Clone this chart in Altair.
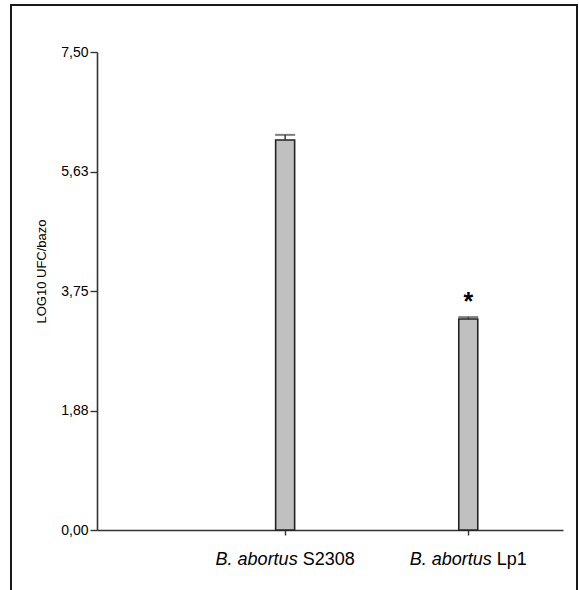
import altair as alt
import pandas as pd

# ---- data ----
italic_parts = ["B. abortus", "B. abortus"]
plain_parts = ["S2308", "Lp1"]
means = [6.12, 3.31]
errors = [0.08, 0.03]
marks = ["", "*"]
y_ticks = [0, 1.875, 3.75, 5.625, 7.5]
y_tick_labels = ["0,00", "1,88", "3,75", "5,63", "7,50"]
y_title = "LOG10 UFC/bazo"

W, H = 466, 478
FONT = "Liberation Sans"
LABEL_SIZE = 18

df = pd.DataFrame({
    "pos": list(range(1, len(means) + 1)),
    "mean": means,
    "top": [m + e for m, e in zip(means, errors)],
    "italic": italic_parts,
    "plain": plain_parts,
    "mark": marks,
})

# Arial-like advance widths (em) to centre the mixed-style labels
ADV = {"B": .667, ".": .278, " ": .278, "a": .556, "b": .556, "o": .556, "r": .333,
       "t": .278, "u": .556, "s": .5, "S": .667, "L": .556, "p": .556}
def text_w(s, size):
    return sum(ADV.get(c, .556) for c in s) * size

xscale = alt.Scale(domain=[0, 2.49], nice=False, zero=False)
yscale = alt.Scale(domain=[0, 7.5], nice=False)
tick_label_expr = "{" + ",".join(f"'{v}':'{l}'" for v, l in zip(y_ticks, y_tick_labels)) + "}[datum.value]"

base = alt.Chart(df)

bars = base.mark_bar(size=19, orient="vertical", fill="#c0c0c0", stroke="#222222", strokeWidth=1.6).encode(
    x=alt.X("pos:Q", scale=xscale,
            axis=alt.Axis(values=[1, 2], labels=False, title=None, tickSize=5, domainColor="#333333",
                          tickColor="#333333", domainWidth=1.6, tickWidth=1.4, grid=False)),
    y=alt.Y("mean:Q", scale=yscale,
            axis=alt.Axis(values=y_ticks, labelExpr=tick_label_expr, title=y_title, grid=False,
                          tickSize=7, labelPadding=2, labelFontSize=14, labelFont=FONT,
                          labelColor="#000000", domainColor="#333333", tickColor="#333333",
                          domainWidth=1.6, tickWidth=1.4, titleFont=FONT, titleFontSize=13,
                          titleFontWeight="normal", titleColor="#000000", titleAngle=-90,
                          titleX=-56, titleY=219, titleAlign="center", titleBaseline="middle")),
    y2=alt.datum(0),
)

err_line = base.mark_rule(color="#333333", strokeWidth=1.5).encode(
    x=alt.X("pos:Q", scale=xscale), y=alt.Y("mean:Q", scale=yscale), y2="top:Q")
err_cap = base.mark_tick(orient="horizontal", size=20, thickness=2, color="#444444").encode(
    x=alt.X("pos:Q", scale=xscale), y=alt.Y("top:Q", scale=yscale))

star = base.mark_text(fontSize=25, font=FONT, fontWeight="bold", baseline="alphabetic", align="center",
                      dy=-7, color="#000000").encode(
    x=alt.X("pos:Q", scale=xscale), y=alt.Y("top:Q", scale=yscale), text="mark:N")

label_layers = []
for i, (it, pl) in enumerate(zip(italic_parts, plain_parts)):
    w_it = text_w(it, LABEL_SIZE)
    w_sp = text_w(" ", LABEL_SIZE)
    w_pl = text_w(pl, LABEL_SIZE)
    total = w_it + w_sp + w_pl
    sel = base.transform_filter(alt.datum.pos == i + 1)
    label_layers.append(sel.mark_text(fontSize=LABEL_SIZE, font=FONT, fontStyle="italic", align="right",
                                      baseline="alphabetic", dx=w_it - total / 2, color="#000000").encode(
        x=alt.X("pos:Q", scale=xscale), y=alt.value(H + 35), text="italic:N"))
    label_layers.append(sel.mark_text(fontSize=LABEL_SIZE, font=FONT, align="left",
                                      baseline="alphabetic", dx=w_it + w_sp - total / 2, color="#000000").encode(
        x=alt.X("pos:Q", scale=xscale), y=alt.value(H + 35), text="plain:N"))

frame = alt.Chart(pd.DataFrame({"f": [0]})).mark_rect(
    fill="#ffffff", fillOpacity=0, stroke="#1a1a1a", strokeWidth=2, clip=False).encode(
    x=alt.value(-86), x2=alt.value(480), y=alt.value(-47), y2=alt.value(H + 120))

chart = alt.layer(frame, bars, err_line, err_cap, star, *label_layers).properties(
    width=W, height=H,
    autosize=alt.AutoSizeParams(type="none"),
    padding={"left": 97, "top": 52, "right": 16, "bottom": 60},
    background="#ffffff",
).configure_view(stroke=None)

chart.save("out.html", embed_options={"renderer": "svg", "actions": False})
